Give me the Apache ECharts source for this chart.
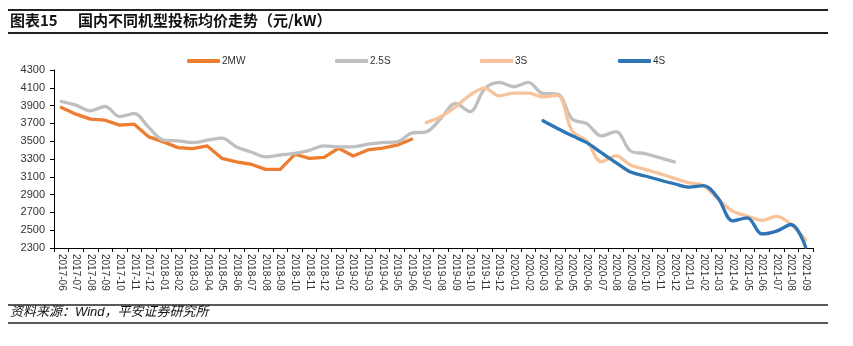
<!DOCTYPE html>
<html>
<head>
<meta charset="utf-8">
<script src="https://cdn.jsdelivr.net/npm/echarts@6/dist/echarts.min.js"></script>
<style>
  html, body { margin: 0; padding: 0; background: #fff; }
  #chart { width: 853px; height: 346px; }
</style>
</head>
<body>
<div id="chart"></div>
<script>
// Monthly categories 2017-06 .. 2021-09
const months = [
  '2017-06','2017-07','2017-08','2017-09','2017-10','2017-11','2017-12',
  '2018-01','2018-02','2018-03','2018-04','2018-05','2018-06','2018-07','2018-08','2018-09','2018-10','2018-11','2018-12',
  '2019-01','2019-02','2019-03','2019-04','2019-05','2019-06','2019-07','2019-08','2019-09','2019-10','2019-11','2019-12',
  '2020-01','2020-02','2020-03','2020-04','2020-05','2020-06','2020-07','2020-08','2020-09','2020-10','2020-11','2020-12',
  '2021-01','2021-02','2021-03','2021-04','2021-05','2021-06','2021-07','2021-08','2021-09'
];

const seriesNames = ['2MW', '2.5S', '3S', '4S'];

// 2MW: 2017-06 .. 2019-06
const price2MW = [3879,3804,3748,3736,3680,3691,3548,3492,3428,3417,3447,3308,3267,3241,3184,3184,3353,3308,3319,3421,3334,3402,3421,3455,3522];

// 2.5S: 2017-06 .. 2020-11
const price25S = [3946,3905,3841,3890,3777,3811,3653,3511,3503,3484,3511,3534,3436,3379,3323,3345,3364,3398,3447,3436,3436,3466,3484,3492,3590,3605,3755,3924,3833,4086,4160,4112,4160,4036,4030,3748,3698,3560,3608,3390,3360,3315,3267];

// 3S: 2019-07 .. 2021-09
const price3S = [3710,3774,3886,4018,4097,4010,4041,4041,3999,4015,3616,3503,3270,3334,3233,3184,3135,3083,3033,3000,2850,2714,2658,2610,2655,2564,2390];
const start3S = 25;

// 4S: 2020-03 .. 2021-09
const price4S = [3729,3642,3560,3484,3371,3259,3154,3109,3064,3022,2985,3000,2860,2605,2639,2458,2489,2564,2309];
const start4S = 33;

const yMin = 2300, yMax = 4300, yStep = 200;

function place(values, start) {
  const out = new Array(months.length).fill(null);
  values.forEach((v, i) => { out[start + i] = v; });
  return out;
}

const colors = ['#ED7D31', '#BFBFBF', '#F8C39B', '#2E75B6'];
const dataSets = [place(price2MW, 0), place(price25S, 0), place(price3S, start3S), place(price4S, start4S)];
const smoothing = [false, 0.35, 0.35, 0.35];
const widths = [3.3, 3.3, 3.3, 3.3];
const legendLeft = [182, 330, 475, 613];

const FONT = '"Liberation Sans", Arial, "Noto Sans CJK SC", sans-serif';

const chart = echarts.init(document.getElementById('chart'), null, { renderer: 'canvas' });

chart.setOption({
  animation: false,
  backgroundColor: '#fff',
  textStyle: { fontFamily: FONT },
  grid: { left: 54, right: 40, top: 70, bottom: 98 },
  legend: seriesNames.map((n, i) => ({
    data: [n],
    left: legendLeft[i],
    top: 51,
    itemWidth: 33,
    itemHeight: 4,
    icon: 'roundRect',
    itemGap: 0,
    textStyle: { fontSize: 10, color: '#333', fontFamily: FONT, padding: [0, 0, 0, -3] }
  })),
  xAxis: {
    type: 'category',
    data: months,
    boundaryGap: true,
    axisLine: { lineStyle: { color: '#000', width: 1 } },
    axisTick: { show: true, length: 4, interval: 0, lineStyle: { color: '#000' } },
    axisLabel: { interval: 0, rotate: -90, fontSize: 10, color: '#333', margin: 6, fontFamily: FONT },
    splitLine: { show: false }
  },
  yAxis: {
    type: 'value',
    min: yMin,
    max: yMax,
    interval: yStep,
    axisLine: { show: true, lineStyle: { color: '#000', width: 1 } },
    axisTick: { show: true, length: 4, lineStyle: { color: '#000' } },
    axisLabel: { fontSize: 11, color: '#333', margin: 9, fontFamily: FONT, formatter: v => String(v) },
    splitLine: { show: false }
  },
  series: seriesNames.map((n, i) => ({
    name: n,
    type: 'line',
    data: dataSets[i],
    smooth: smoothing[i],
    showSymbol: false,
    symbol: 'none',
    connectNulls: false,
    itemStyle: { color: colors[i] },
    lineStyle: { color: colors[i], width: widths[i], cap: 'round', join: 'round' },
    z: i === 3 ? 5 : 2 + i
  })),
  graphic: [
    { type: 'line', shape: { x1: 8, y1: 10, x2: 828, y2: 10 }, style: { stroke: '#222', lineWidth: 2 } },
    { type: 'line', shape: { x1: 8, y1: 33, x2: 828, y2: 33 }, style: { stroke: '#222', lineWidth: 2 } },
    { type: 'text', left: 10, top: 13, style: { text: '图表15', font: 'bold 15px "Noto Sans CJK SC", sans-serif', fill: '#111' } },
    { type: 'text', left: 78, top: 13, style: { text: '国内不同机型投标均价走势（元/kW）', font: 'bold 15px "Noto Sans CJK SC", sans-serif', fill: '#111' } },
    { type: 'line', shape: { x1: 8, y1: 305, x2: 828, y2: 305 }, style: { stroke: '#222', lineWidth: 1.5 } },
    { type: 'line', shape: { x1: 8, y1: 323, x2: 828, y2: 323 }, style: { stroke: '#222', lineWidth: 1.5 } },
    { type: 'text', left: 10, top: 306, style: { text: '资料来源：Wind，平安证券研究所', font: 'italic 13px "Liberation Sans", "Noto Sans CJK SC", sans-serif', fill: '#111' } }
  ]
});
</script>
</body>
</html>
